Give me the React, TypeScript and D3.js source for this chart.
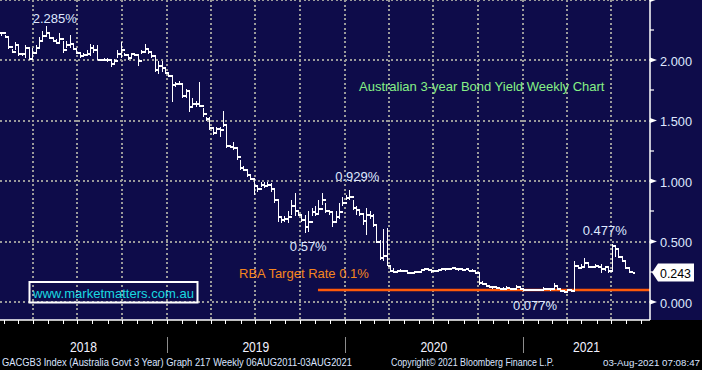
import React from 'react';
import * as d3 from 'd3';

// weekly bars [high, low, close], one per week starting 26 Jan 2018
const yields2018 = [
  [2.23, 2.2, 2.22], [2.21, 2.18, 2.19], [2.2, 2.09, 2.11], [2.09, 2.06, 2.07], [2.145, 2.08, 2.12],
  [2.12, 2.035, 2.05], [2.06, 2.03, 2.05], [2.12, 2.02, 2.1], [2.1, 2.0, 2.01], [2.1, 2.0, 2.06],
  [2.12, 2.05, 2.1], [2.19, 2.1, 2.16], [2.24, 2.16, 2.2], [2.285, 2.21, 2.22], [2.23, 2.17, 2.18],
  [2.19, 2.145, 2.16], [2.17, 2.13, 2.14], [2.227, 2.13, 2.17], [2.16, 2.06, 2.08], [2.16, 2.1, 2.12],
  [2.21, 2.1, 2.13], [2.12, 2.08, 2.09], [2.09, 2.05, 2.06], [2.06, 2.02, 2.03], [2.06, 2.035, 2.04],
  [2.08, 2.035, 2.05], [2.13, 2.035, 2.1], [2.12, 2.06, 2.08], [2.12, 2.0, 2.0], [2.01, 1.995, 2.0],
  [2.015, 1.99, 2.0], [2.02, 1.98, 2.0], [2.01, 1.94, 1.97], [2.01, 1.967, 1.99], [2.08, 2.02, 2.05],
  [2.145, 2.02, 2.08], [2.06, 2.035, 2.04], [2.05, 2.0, 2.02], [2.06, 2.02, 2.05], [2.06, 2.035, 2.04],
  [2.05, 1.953, 1.99], [2.08, 2.05, 2.07], [2.13, 2.06, 2.09], [2.09, 2.05, 2.07], [2.06, 2.02, 2.03],
  [2.035, 1.9, 1.92], [1.995, 1.885, 1.95], [1.995, 1.9, 1.93], [1.926, 1.885, 1.89],
];
const yields2019 = [
  [1.885, 1.86, 1.87], [1.87, 1.65, 1.79], [1.82, 1.775, 1.8], [1.83, 1.79, 1.8], [1.8, 1.69, 1.7],
  [1.76, 1.69, 1.74], [1.75, 1.57, 1.61], [1.69, 1.6, 1.64], [1.665, 1.61, 1.64], [1.82, 1.61, 1.62],
  [1.6, 1.53, 1.55], [1.53, 1.5, 1.51], [1.53, 1.42, 1.44], [1.45, 1.38, 1.4], [1.45, 1.39, 1.43],
  [1.45, 1.365, 1.42], [1.58, 1.45, 1.46], [1.46, 1.27, 1.29], [1.3, 1.27, 1.28], [1.32, 1.255, 1.27],
  [1.28, 1.17, 1.2], [1.17, 1.09, 1.11], [1.12, 1.08, 1.09], [1.08, 1.035, 1.05], [1.05, 1.01, 1.02],
  [1.02, 0.885, 0.96], [0.967, 0.91, 0.93], [0.995, 0.953, 0.97], [0.995, 0.94, 0.96], [0.995, 0.953, 0.97],
  [0.98, 0.91, 0.93], [0.926, 0.816, 0.84], [0.84, 0.665, 0.7], [0.71, 0.65, 0.68], [0.71, 0.665, 0.69],
  [0.75, 0.65, 0.7], [0.84, 0.72, 0.79], [0.9, 0.71, 0.75], [0.75, 0.71, 0.72], [0.73, 0.665, 0.68],
  [0.72, 0.57, 0.62], [0.75, 0.58, 0.66], [0.775, 0.71, 0.74], [0.79, 0.71, 0.73], [0.84, 0.72, 0.77],
  [0.904, 0.8, 0.84], [0.816, 0.734, 0.75], [0.75, 0.72, 0.74], [0.75, 0.62, 0.66], [0.75, 0.665, 0.7],
  [0.816, 0.69, 0.74], [0.87, 0.79, 0.82],
];
const yields2020 = [
  [0.885, 0.84, 0.86], [0.929, 0.84, 0.87], [0.84, 0.76, 0.78], [0.79, 0.72, 0.76], [0.76, 0.71, 0.73],
  [0.73, 0.64, 0.67], [0.775, 0.555, 0.72], [0.75, 0.69, 0.71], [0.73, 0.62, 0.64], [0.64, 0.485, 0.5],
  [0.51, 0.35, 0.36], [0.6, 0.335, 0.38], [0.61, 0.295, 0.3], [0.295, 0.25, 0.26], [0.28, 0.24, 0.25],
  [0.266, 0.245, 0.26], [0.27, 0.25, 0.26], [0.266, 0.245, 0.255], [0.25, 0.233, 0.24], [0.25, 0.233, 0.24],
  [0.26, 0.24, 0.25], [0.26, 0.24, 0.25], [0.275, 0.26, 0.265], [0.278, 0.26, 0.27], [0.275, 0.26, 0.265],
  [0.27, 0.24, 0.255], [0.265, 0.25, 0.26], [0.27, 0.255, 0.265], [0.28, 0.26, 0.275], [0.275, 0.26, 0.27],
  [0.28, 0.265, 0.275], [0.285, 0.265, 0.28], [0.28, 0.265, 0.275], [0.275, 0.26, 0.27], [0.275, 0.26, 0.265],
  [0.275, 0.255, 0.27], [0.27, 0.255, 0.26], [0.27, 0.25, 0.26], [0.26, 0.235, 0.24], [0.24, 0.14, 0.16],
  [0.17, 0.14, 0.15], [0.15, 0.125, 0.13], [0.14, 0.115, 0.12], [0.13, 0.11, 0.12], [0.125, 0.11, 0.115],
  [0.125, 0.105, 0.11], [0.125, 0.105, 0.11], [0.13, 0.11, 0.115], [0.12, 0.105, 0.11], [0.115, 0.1, 0.105],
  [0.14, 0.11, 0.12], [0.115, 0.1, 0.105],
];
const yields2021 = [
  [0.11, 0.095, 0.1], [0.11, 0.095, 0.1], [0.105, 0.09, 0.1], [0.11, 0.095, 0.1], [0.11, 0.095, 0.1],
  [0.105, 0.095, 0.1], [0.125, 0.1, 0.11], [0.115, 0.1, 0.105], [0.115, 0.095, 0.105], [0.154, 0.11, 0.13],
  [0.14, 0.1, 0.11], [0.11, 0.085, 0.09], [0.095, 0.077, 0.085], [0.11, 0.085, 0.1], [0.11, 0.085, 0.095],
  [0.34, 0.1, 0.3], [0.3, 0.27, 0.28], [0.31, 0.28, 0.29], [0.36, 0.3, 0.32], [0.31, 0.28, 0.29],
  [0.3, 0.28, 0.29], [0.31, 0.28, 0.3], [0.3, 0.28, 0.29], [0.31, 0.24, 0.27], [0.3, 0.26, 0.29],
  [0.3, 0.24, 0.26], [0.477, 0.26, 0.46], [0.47, 0.375, 0.44], [0.45, 0.36, 0.37], [0.36, 0.33, 0.34],
  [0.34, 0.27, 0.28], [0.27, 0.237, 0.25], [0.25, 0.237, 0.243],
];

const yTicks = [0, 0.5, 1, 1.5, 2];
const yearLabels = [2018, 2019, 2020, 2021];
const rbaRate = 0.1;
const rbaFrom = new Date(2019, 10, 7);

// labelled points: [bar index, value, text, dx, dy]
const callouts: [number, number, string, number, number][] = [
  [13, 2.285, '2.285%', -13, -3],
  [102, 0.929, '0.929%', -14, -9],
  [89, 0.57, '0.57%', -15, 18],
  [179, 0.477, '0.477%', -29, -9],
  [165, 0.077, '0.077%', -51, 17],
];

const W = 702;
const H = 370;
const plotRight = 650;
const plotBottom = 320;
const navy = '#0e0c4a';
const gridColor = '#9a9a9a';
const font = '"Liberation Sans", Arial, sans-serif';

export default function App() {
  const bars = [...yields2018, ...yields2019, ...yields2020, ...yields2021].map((b, i) => ({
    date: d3.timeDay.offset(new Date(2018, 0, 26), i * 7),
    high: b[0],
    low: b[1],
    close: b[2],
  }));

  const x = d3.scaleTime().domain([new Date(2019, 0, 1), new Date(2021, 0, 1)]).range([167, 523]);
  const y = d3.scaleLinear().domain([0, 2]).range([302, 60]);
  const x0 = x.invert(0);
  const x1 = x.invert(plotRight);

  const months = d3.timeMonth.range(d3.timeMonth.ceil(x0), x1);
  const quarters = months.filter((d) => d.getMonth() % 3 === 0);
  const hGrid = d3.range(0, 2.51, 0.5);
  const minor = d3.range(0.25, 2.5, 0.5);

  // OHLC-ish path, open tick at the previous close
  let barPath = '';
  bars.forEach((b, i) => {
    const bx = Math.round(x(b.date)) + 0.5;
    const open = i > 0 ? bars[i - 1].close : b.close;
    barPath += `M${bx},${y(b.high)}V${y(b.low)}`;
    barPath += `M${bx - 2},${Math.round(y(open))}H${bx}`;
    barPath += `M${bx},${Math.round(y(b.close))}H${bx + 2.5}`;
  });

  const last = bars[bars.length - 1];
  const ly = y(last.close);

  return (
    <svg width={W} height={H} style={{ position: 'absolute', left: 0, top: 0 }} fontFamily={font}>
      <rect x={0} y={0} width={W} height={plotBottom} fill={navy} />
      <rect x={0} y={plotBottom} width={W} height={H - plotBottom} fill="#000" />

      {/* grid */}
      <g stroke={gridColor} strokeWidth={1.6} strokeDasharray="2 2.6" shapeRendering="crispEdges">
        {quarters.map((d) => (
          <line key={+d} x1={Math.round(x(d))} x2={Math.round(x(d))} y1={0} y2={plotBottom} />
        ))}
        {hGrid.map((v) => (
          <line key={v} x1={0} x2={plotRight} y1={Math.round(y(v))} y2={Math.round(y(v))} />
        ))}
      </g>

      <text x={359} y={91} fill="#86f086" fontSize={13}>
        Australian 3-year Bond Yield Weekly Chart
      </text>

      {/* RBA target rate */}
      <line x1={x(rbaFrom)} x2={plotRight} y1={y(rbaRate)} y2={y(rbaRate)} stroke="#ff5a0a" strokeWidth={2.5} />
      <text x={239} y={278} fill="#f5861e" fontSize={13}>
        RBA Target Rate 0.1%
      </text>

      <path d={barPath} stroke="#fff" strokeWidth={1.6} fill="none" shapeRendering="crispEdges" />

      {callouts.map(([i, v, t, dx, dy]) => (
        <text key={t} x={x(bars[i].date) + dx} y={y(v) + dy} fill="#dfe8ff" fontSize={13}>
          {t}
        </text>
      ))}

      <rect x={29.5} y={282} width={168} height={20.5} fill="none" stroke="#fff" strokeWidth={2} />
      <text x={33} y={297.5} fill="#19d9e0" fontSize={13} textLength={161} lengthAdjust="spacingAndGlyphs">
        www.marketmatters.com.au
      </text>

      {/* right axis */}
      <line x1={plotRight} x2={plotRight} y1={0} y2={plotBottom} stroke="#fff" strokeWidth={1.5} />
      {minor.map((v) => (
        <line key={v} x1={plotRight} x2={plotRight + 4} y1={Math.round(y(v))} y2={Math.round(y(v))} stroke="#fff" strokeWidth={1.2} />
      ))}
      {[...yTicks, 2.5].map((v) => (
        <path key={v} d={`M${plotRight},${y(v) - 2.5}L${plotRight + 7},${y(v)}L${plotRight},${y(v) + 2.5}Z`} fill="#fff" />
      ))}
      {yTicks.map((v) => (
        <text key={v} x={660} y={y(v) + 5.5} fill="#dfe8ff" fontSize={13.5} textLength={32} lengthAdjust="spacingAndGlyphs">
          {d3.format('.3f')(v)}
        </text>
      ))}

      {/* last value tag */}
      <path d={`M652,${ly}L658,${ly - 9}H694V${ly + 9}H658Z`} fill="#fff" />
      <text x={660} y={ly + 5} fill="#000" fontSize={13.5} textLength={31} lengthAdjust="spacingAndGlyphs">
        {d3.format('.3f')(last.close)}
      </text>

      {/* bottom axis */}
      <line x1={0} x2={plotRight} y1={plotBottom} y2={plotBottom} stroke="#fff" strokeWidth={1.5} />
      {months.map((d) => (
        <line key={+d} x1={Math.round(x(d)) + 0.5} x2={Math.round(x(d)) + 0.5} y1={plotBottom} y2={plotBottom + 4} stroke="#fff" strokeWidth={1} />
      ))}
      {yearLabels.map((yr) => {
        const a = Math.max(0, x(new Date(yr, 0, 1)));
        const b = Math.min(plotRight, x(new Date(yr + 1, 0, 1)));
        return (
          <g key={yr}>
            {yr > 2018 && <line x1={Math.round(a) + 0.5} x2={Math.round(a) + 0.5} y1={337} y2={353} stroke="#8c8c8c" strokeWidth={1} />}
            <text x={(a + b) / 2} y={352} fill="#f2f2ff" fontSize={15} textAnchor="middle" textLength={27} lengthAdjust="spacingAndGlyphs">
              {yr}
            </text>
          </g>
        );
      })}

      {/* footer */}
      <g fill="#dbe4ff" fontSize={10}>
        <text x={2} y={366} textLength={350} lengthAdjust="spacingAndGlyphs">
          GACGB3 Index (Australia Govt 3 Year) Graph 217 Weekly 06AUG2011-03AUG2021
        </text>
        <text x={391} y={366} textLength={163} lengthAdjust="spacingAndGlyphs">
          Copyright© 2021 Bloomberg Finance L.P.
        </text>
        <text x={603} y={366} fontSize={9.5} textLength={97} lengthAdjust="spacingAndGlyphs">
          03-Aug-2021 07:08:47
        </text>
      </g>
    </svg>
  );
}
